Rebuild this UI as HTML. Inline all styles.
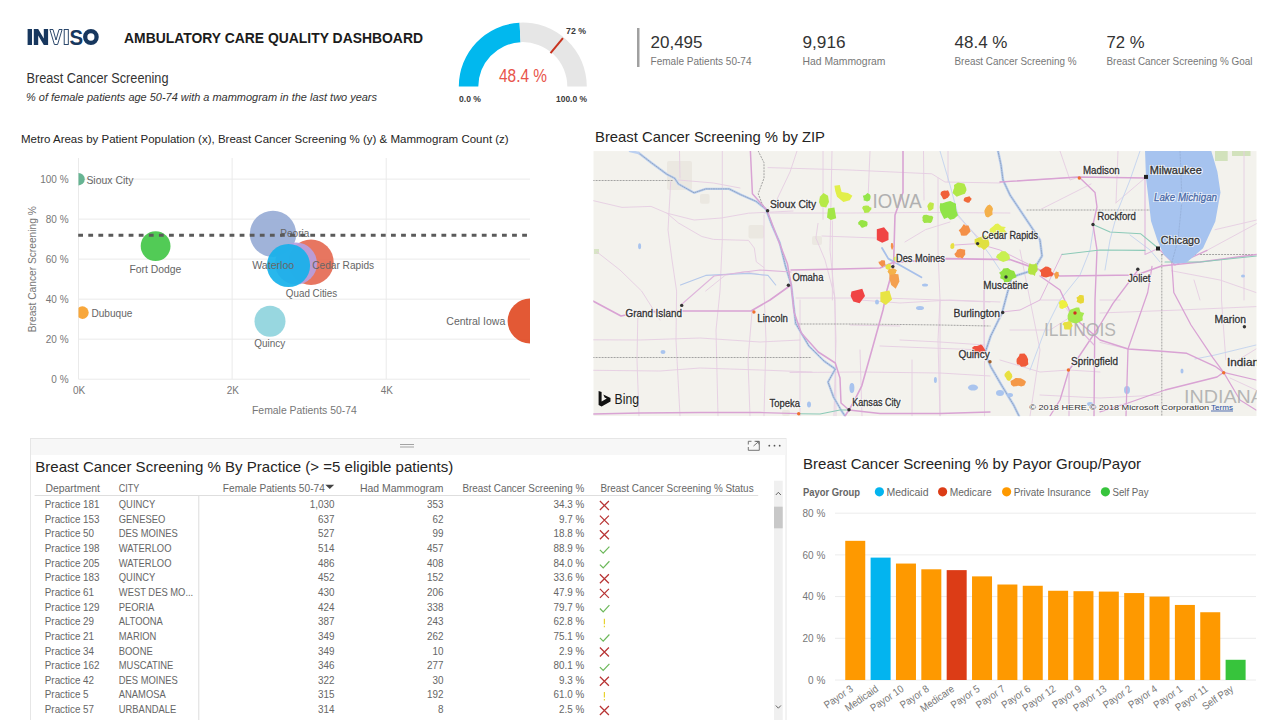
<!DOCTYPE html>
<html><head><meta charset="utf-8"><title>Ambulatory Care Quality Dashboard</title>
<style>
html,body{margin:0;padding:0;background:#fff;width:1280px;height:720px;overflow:hidden}
svg{display:block}
text{font-family:"Liberation Sans",sans-serif}
</style></head><body>
<svg width="1280" height="720" viewBox="0 0 1280 720">
<g fill="#17375e">
<rect x="27.6" y="29" width="4.4" height="16"/>
<path d="M33.8,29 H38.2 L43.8,38.6 V29 H48.1 V45 H43.8 L38.2,35.4 V45 H33.8 Z"/>
<path d="M49.9,29.5 H53 L56,40 L59,29.5 H62.1 L57.6,44.5 H54.4 Z" fill="#fff" stroke="#17375e" stroke-width="0.9"/>
<rect x="64.2" y="29.5" width="4.1" height="15" fill="#fff" stroke="#17375e" stroke-width="0.9"/>
<text x="69.6" y="45" font-size="21.5" font-weight="bold" textLength="13.6" lengthAdjust="spacingAndGlyphs">S</text>
<ellipse cx="90.9" cy="37" rx="5.7" ry="5.9" fill="none" stroke="#17375e" stroke-width="4.3"/>
</g>
<text x="124" y="42.5" font-size="14" fill="#1b1b1b" font-weight="bold" textLength="299" lengthAdjust="spacingAndGlyphs">AMBULATORY CARE QUALITY DASHBOARD</text>
<text x="26.5" y="82.5" font-size="14" fill="#333" textLength="142" lengthAdjust="spacingAndGlyphs">Breast Cancer Screening</text>
<text x="26" y="101" font-size="11" fill="#333" font-style="italic" textLength="351" lengthAdjust="spacingAndGlyphs">% of female patients age 50-74 with a mammogram in the last two years</text>
<path d="M458.80,86.60 A64,64 0 0 1 519.58,22.68 L520.56,42.16 A44.5,44.5 0 0 0 478.30,86.60 Z" fill="#01b8ee"/>
<path d="M519.58,22.68 A64,64 0 0 1 586.80,86.60 L567.30,86.60 A44.5,44.5 0 0 0 520.56,42.16 Z" fill="#e6e6e6"/>
<line x1="550.53" y1="53.08" x2="562.96" y2="38.06" stroke="#c8321e" stroke-width="2"/>
<text x="523" y="81.5" font-size="18" fill="#e8544a" text-anchor="middle" textLength="48" lengthAdjust="spacingAndGlyphs">48.4 %</text>
<text x="566" y="33.5" font-size="8.5" fill="#3a3a3a" font-weight="bold" textLength="20" lengthAdjust="spacingAndGlyphs">72 %</text>
<text x="459" y="101.5" font-size="8.5" fill="#3a3a3a" font-weight="bold" textLength="22" lengthAdjust="spacingAndGlyphs">0.0 %</text>
<text x="587" y="101.5" font-size="8.5" fill="#3a3a3a" text-anchor="end" font-weight="bold" textLength="31" lengthAdjust="spacingAndGlyphs">100.0 %</text>
<rect x="637" y="28" width="2.5" height="39" fill="#a0a0a0"/>
<text x="650.5" y="47.5" font-size="17" fill="#333" textLength="52" lengthAdjust="spacingAndGlyphs">20,495</text>
<text x="650.5" y="64.5" font-size="10.5" fill="#777" textLength="101" lengthAdjust="spacingAndGlyphs">Female Patients 50-74</text>
<text x="802.5" y="47.5" font-size="17" fill="#333" textLength="43" lengthAdjust="spacingAndGlyphs">9,916</text>
<text x="802.5" y="64.5" font-size="10.5" fill="#777" textLength="83" lengthAdjust="spacingAndGlyphs">Had Mammogram</text>
<text x="954.5" y="47.5" font-size="17" fill="#333" textLength="53" lengthAdjust="spacingAndGlyphs">48.4 %</text>
<text x="954.5" y="64.5" font-size="10.5" fill="#777" textLength="122" lengthAdjust="spacingAndGlyphs">Breast Cancer Screening %</text>
<text x="1106.5" y="47.5" font-size="17" fill="#333" textLength="38" lengthAdjust="spacingAndGlyphs">72 %</text>
<text x="1106.5" y="64.5" font-size="10.5" fill="#777" textLength="146" lengthAdjust="spacingAndGlyphs">Breast Cancer Screening % Goal</text>
<text x="21" y="143.2" font-size="11" fill="#252423" textLength="487.7" lengthAdjust="spacingAndGlyphs">Metro Areas by Patient Population (x), Breast Cancer Screening % (y) &amp; Mammogram Count (z)</text>
<line x1="78.5" y1="379.20" x2="530" y2="379.20" stroke="#eaeaea" stroke-width="1"/>
<line x1="78.5" y1="339.18" x2="530" y2="339.18" stroke="#eaeaea" stroke-width="1"/>
<line x1="78.5" y1="299.16" x2="530" y2="299.16" stroke="#eaeaea" stroke-width="1"/>
<line x1="78.5" y1="259.14" x2="530" y2="259.14" stroke="#eaeaea" stroke-width="1"/>
<line x1="78.5" y1="219.12" x2="530" y2="219.12" stroke="#eaeaea" stroke-width="1"/>
<line x1="78.5" y1="179.10" x2="530" y2="179.10" stroke="#eaeaea" stroke-width="1"/>
<line x1="78.5" y1="158" x2="78.5" y2="379.2" stroke="#eaeaea" stroke-width="1"/>
<line x1="232.1" y1="158" x2="232.1" y2="379.2" stroke="#eaeaea" stroke-width="1"/>
<line x1="386.2" y1="158" x2="386.2" y2="379.2" stroke="#eaeaea" stroke-width="1"/>
<text x="68.6" y="383.0" font-size="10" fill="#777" text-anchor="end">0 %</text>
<text x="68.6" y="342.98" font-size="10" fill="#777" text-anchor="end">20 %</text>
<text x="68.6" y="302.96" font-size="10" fill="#777" text-anchor="end">40 %</text>
<text x="68.6" y="262.94" font-size="10" fill="#777" text-anchor="end">60 %</text>
<text x="68.6" y="222.92" font-size="10" fill="#777" text-anchor="end">80 %</text>
<text x="68.6" y="182.9" font-size="10" fill="#777" text-anchor="end">100 %</text>
<text x="79" y="394.2" font-size="10" fill="#777" text-anchor="middle">0K</text>
<text x="232.8" y="394.2" font-size="10" fill="#777" text-anchor="middle">2K</text>
<text x="386.8" y="394.2" font-size="10" fill="#777" text-anchor="middle">4K</text>
<text x="304.4" y="414.3" font-size="10.5" fill="#777" text-anchor="middle" textLength="104.8" lengthAdjust="spacingAndGlyphs">Female Patients 50-74</text>
<text x="0" y="0" font-size="10.5" fill="#777" text-anchor="middle" textLength="126" lengthAdjust="spacingAndGlyphs" transform="translate(35.5,269.2) rotate(-90)">Breast Cancer Screening %</text>
<defs><clipPath id="plotclip"><rect x="78.5" y="150" width="451.5" height="240"/></clipPath></defs>
<g clip-path="url(#plotclip)">
<circle cx="78.5" cy="179.2" r="6.2" fill="#5aae8a" fill-opacity="0.92"/>
<circle cx="155.6" cy="246.1" r="14.9" fill="#43c748" fill-opacity="0.92"/>
<circle cx="82.4" cy="312.6" r="6.3" fill="#f7a02a" fill-opacity="0.92"/>
<circle cx="273" cy="233.9" r="23.2" fill="#98acd6" fill-opacity="0.92"/>
<circle cx="311" cy="262.3" r="22.7" fill="#e56a52" fill-opacity="0.92"/>
<circle cx="296" cy="263.5" r="21" fill="#b7a0e0" fill-opacity="0.92"/>
<circle cx="288.5" cy="265.5" r="21.6" fill="#16b1ea" fill-opacity="0.92"/>
<circle cx="270" cy="321.3" r="15.5" fill="#8fd4dd" fill-opacity="0.92"/>
<circle cx="530" cy="321" r="22.4" fill="#e14b24" fill-opacity="0.92"/>
</g>
<text x="86.4" y="183.6" font-size="11.3" fill="#666" textLength="47" lengthAdjust="spacingAndGlyphs">Sioux City</text>
<text x="155.4" y="272.8" font-size="11.3" fill="#666" text-anchor="middle" textLength="52" lengthAdjust="spacingAndGlyphs">Fort Dodge</text>
<text x="91.4" y="316.9" font-size="11.3" fill="#666" textLength="41" lengthAdjust="spacingAndGlyphs">Dubuque</text>
<text x="280.3" y="237.2" font-size="11.3" fill="#666" textLength="29" lengthAdjust="spacingAndGlyphs">Peoria</text>
<text x="252.2" y="268.8" font-size="11.3" fill="#666" textLength="42" lengthAdjust="spacingAndGlyphs">Waterloo</text>
<text x="312.2" y="269.2" font-size="11.3" fill="#666" textLength="62" lengthAdjust="spacingAndGlyphs">Cedar Rapids</text>
<text x="285.8" y="296.5" font-size="11.3" fill="#666" textLength="51.4" lengthAdjust="spacingAndGlyphs">Quad Cities</text>
<text x="269.8" y="347.2" font-size="11.3" fill="#666" text-anchor="middle" textLength="31" lengthAdjust="spacingAndGlyphs">Quincy</text>
<text x="446.3" y="324.9" font-size="11.3" fill="#666" textLength="59" lengthAdjust="spacingAndGlyphs">Central Iowa</text>
<line x1="78.2" y1="235.3" x2="530" y2="235.3" stroke="#5a5a5a" stroke-width="3" stroke-dasharray="4.8 5.29"/>
<text x="595" y="141.7" font-size="15" fill="#252423" textLength="230" lengthAdjust="spacingAndGlyphs">Breast Cancer Screening % by ZIP</text>
<defs><clipPath id="mapclip"><rect x="593.3" y="151.1" width="663.4" height="265.1"/></clipPath></defs>
<g clip-path="url(#mapclip)">
<rect x="593.3" y="151.1" width="663.4" height="265.1" fill="#f3f2ed"/>
<rect x="667" y="161" width="25" height="29" fill="#ebe8e1" rx="2"/>
<rect x="748.5" y="225" width="15.5" height="13.5" fill="#ebe8e1" rx="2"/>
<rect x="700" y="194" width="9.6" height="9.7" fill="#ebe8e1" rx="2"/>
<rect x="812" y="236" width="10" height="9" fill="#ebe8e1" rx="2"/>
<rect x="782" y="410" width="8" height="6" fill="#ebe8e1" rx="2"/>
<rect x="1215" y="151" width="12.7" height="10" fill="#d2e2bc"/>
<rect x="1232" y="151" width="18.5" height="5" fill="#d2e2bc"/>
<rect x="594" y="249" width="5" height="5" fill="#d8e4c6"/>
<path d="M593.0,200.6 L622.0,207.4 L651.0,206.4 L667.0,213.2 L694.0,220.0 L721.3,218.0 L748.5,213.2 L793.0,211.0" fill="none" stroke="#e5cde2" stroke-width="0.9" stroke-linejoin="round" stroke-linecap="round" />
<path d="M667.0,213.2 L678.5,223.0 L701.8,236.5 L713.5,239.4 L748.5,240.4 L754.3,248.0 L756.3,261.8 L764.0,267.6" fill="none" stroke="#e5cde2" stroke-width="0.9" stroke-linejoin="round" stroke-linecap="round" />
<path d="M678.5,180.0 L713.5,183.0 L740.0,188.0" fill="none" stroke="#e5cde2" stroke-width="0.9" stroke-linejoin="round" stroke-linecap="round" />
<path d="M679.5,151.0 L680.0,178.0" fill="none" stroke="#e5cde2" stroke-width="0.9" stroke-linejoin="round" stroke-linecap="round" />
<path d="M670.7,182.0 L668.0,230.0 L672.0,260.0 L676.6,291.0 L676.0,340.0 L680.0,416.0" fill="none" stroke="#e5cde2" stroke-width="0.9" stroke-linejoin="round" stroke-linecap="round" />
<path d="M722.3,151.0 L722.3,240.0 L720.0,291.0 L716.0,330.0 L718.0,416.0" fill="none" stroke="#e5cde2" stroke-width="0.9" stroke-linejoin="round" stroke-linecap="round" />
<path d="M764.0,215.0 L764.0,291.0 L766.0,340.0 L764.0,416.0" fill="none" stroke="#e5cde2" stroke-width="0.9" stroke-linejoin="round" stroke-linecap="round" />
<path d="M597.0,252.0 L620.0,270.0 L641.6,291.0 L660.0,320.0" fill="none" stroke="#e5cde2" stroke-width="0.9" stroke-linejoin="round" stroke-linecap="round" />
<path d="M593.0,339.8 L640.0,340.0 L700.0,338.0 L760.0,342.0 L800.0,340.0" fill="none" stroke="#e5cde2" stroke-width="0.9" stroke-linejoin="round" stroke-linecap="round" />
<path d="M593.0,370.3 L660.0,371.0 L700.0,368.0 L760.0,370.0 L812.0,372.0" fill="none" stroke="#e5cde2" stroke-width="0.9" stroke-linejoin="round" stroke-linecap="round" />
<path d="M637.8,318.0 L637.0,360.0 L639.0,416.0" fill="none" stroke="#e5cde2" stroke-width="0.9" stroke-linejoin="round" stroke-linecap="round" />
<path d="M752.0,312.0 L748.0,360.0 L750.0,416.0" fill="none" stroke="#e5cde2" stroke-width="0.9" stroke-linejoin="round" stroke-linecap="round" />
<path d="M705.7,291.0 L725.0,275.4 L744.6,271.5 L764.0,275.4" fill="none" stroke="#e5cde2" stroke-width="0.9" stroke-linejoin="round" stroke-linecap="round" />
<path d="M797.0,151.0 L790.0,172.0 L772.4,209.0" fill="none" stroke="#e5cde2" stroke-width="0.9" stroke-linejoin="round" stroke-linecap="round" />
<path d="M823.0,151.0 L823.0,219.3" fill="none" stroke="#e5cde2" stroke-width="0.9" stroke-linejoin="round" stroke-linecap="round" />
<path d="M818.0,223.4 L815.9,238.0 L825.0,260.0 L834.5,296.0 L836.0,340.0 L834.0,416.0" fill="none" stroke="#e5cde2" stroke-width="0.9" stroke-linejoin="round" stroke-linecap="round" />
<path d="M822.0,236.0 L875.9,238.0" fill="none" stroke="#e5cde2" stroke-width="0.9" stroke-linejoin="round" stroke-linecap="round" />
<path d="M832.4,221.0 L832.4,300.0" fill="none" stroke="#e5cde2" stroke-width="0.9" stroke-linejoin="round" stroke-linecap="round" />
<path d="M764.0,213.0 L850.0,213.0 L930.0,212.5 L1010.0,213.0" fill="none" stroke="#e5cde2" stroke-width="0.9" stroke-linejoin="round" stroke-linecap="round" />
<path d="M768.0,167.6 L850.0,170.0 L931.8,173.8 L945.0,182.0 L1000.0,183.0" fill="none" stroke="#e5cde2" stroke-width="0.9" stroke-linejoin="round" stroke-linecap="round" />
<path d="M923.5,151.0 L924.0,200.0" fill="none" stroke="#e5cde2" stroke-width="0.9" stroke-linejoin="round" stroke-linecap="round" />
<path d="M948.0,151.0 L948.0,182.0" fill="none" stroke="#e5cde2" stroke-width="0.9" stroke-linejoin="round" stroke-linecap="round" />
<path d="M938.0,178.0 L938.0,250.0 L940.0,300.0 L938.0,340.0 L940.0,416.0" fill="none" stroke="#e5cde2" stroke-width="0.9" stroke-linejoin="round" stroke-linecap="round" />
<path d="M904.9,242.0 L925.6,229.6 L950.0,222.0" fill="none" stroke="#e5cde2" stroke-width="0.9" stroke-linejoin="round" stroke-linecap="round" />
<path d="M956.6,215.0 L979.0,238.0" fill="none" stroke="#e5cde2" stroke-width="0.9" stroke-linejoin="round" stroke-linecap="round" />
<path d="M983.5,233.0 L983.5,300.0 L984.0,350.0" fill="none" stroke="#e5cde2" stroke-width="0.9" stroke-linejoin="round" stroke-linecap="round" />
<path d="M860.0,300.0 L900.0,303.0 L950.0,300.0 L1000.0,302.0" fill="none" stroke="#e5cde2" stroke-width="0.9" stroke-linejoin="round" stroke-linecap="round" />
<path d="M850.0,325.0 L900.0,326.0" fill="none" stroke="#e5cde2" stroke-width="0.9" stroke-linejoin="round" stroke-linecap="round" />
<path d="M870.0,151.0 L868.0,200.0" fill="none" stroke="#e5cde2" stroke-width="0.9" stroke-linejoin="round" stroke-linecap="round" />
<path d="M800.0,300.0 L800.0,416.0" fill="none" stroke="#e5cde2" stroke-width="0.9" stroke-linejoin="round" stroke-linecap="round" />
<path d="M860.0,350.0 L862.0,416.0" fill="none" stroke="#e5cde2" stroke-width="0.9" stroke-linejoin="round" stroke-linecap="round" />
<path d="M900.0,340.0 L940.0,342.0 L985.0,345.0" fill="none" stroke="#e5cde2" stroke-width="0.9" stroke-linejoin="round" stroke-linecap="round" />
<path d="M912.0,360.0 L912.0,416.0" fill="none" stroke="#e5cde2" stroke-width="0.9" stroke-linejoin="round" stroke-linecap="round" />
<path d="M1000.0,182.0 L1078.7,177.0" fill="none" stroke="#e5cde2" stroke-width="0.9" stroke-linejoin="round" stroke-linecap="round" />
<path d="M1041.4,209.0 L1091.0,184.0" fill="none" stroke="#e5cde2" stroke-width="0.9" stroke-linejoin="round" stroke-linecap="round" />
<path d="M1116.0,202.8 L1145.0,178.0" fill="none" stroke="#e5cde2" stroke-width="0.9" stroke-linejoin="round" stroke-linecap="round" />
<path d="M1207.0,250.4 L1256.7,223.5" fill="none" stroke="#e5cde2" stroke-width="0.9" stroke-linejoin="round" stroke-linecap="round" />
<path d="M1215.0,229.7 L1256.7,220.0" fill="none" stroke="#e5cde2" stroke-width="0.9" stroke-linejoin="round" stroke-linecap="round" />
<path d="M1244.0,151.0 L1244.0,300.0" fill="none" stroke="#e5cde2" stroke-width="0.9" stroke-linejoin="round" stroke-linecap="round" />
<path d="M1100.0,313.0 L1180.0,310.0 L1256.0,306.6" fill="none" stroke="#e5cde2" stroke-width="0.9" stroke-linejoin="round" stroke-linecap="round" />
<path d="M1171.6,270.8 L1220.0,280.0 L1256.0,292.5" fill="none" stroke="#e5cde2" stroke-width="0.9" stroke-linejoin="round" stroke-linecap="round" />
<path d="M1221.5,260.0 L1221.5,300.0 L1225.8,359.8" fill="none" stroke="#e5cde2" stroke-width="0.9" stroke-linejoin="round" stroke-linecap="round" />
<path d="M1256.0,349.0 L1230.0,365.0" fill="none" stroke="#e5cde2" stroke-width="0.9" stroke-linejoin="round" stroke-linecap="round" />
<path d="M1256.0,390.0 L1230.0,378.0" fill="none" stroke="#e5cde2" stroke-width="0.9" stroke-linejoin="round" stroke-linecap="round" />
<path d="M1100.0,342.4 L1128.2,349.0" fill="none" stroke="#e5cde2" stroke-width="0.9" stroke-linejoin="round" stroke-linecap="round" />
<path d="M1040.0,300.0 L1060.0,300.0 L1072.0,316.0" fill="none" stroke="#e5cde2" stroke-width="0.9" stroke-linejoin="round" stroke-linecap="round" />
<path d="M1010.0,330.0 L1050.0,330.0 L1072.0,316.0" fill="none" stroke="#e5cde2" stroke-width="0.9" stroke-linejoin="round" stroke-linecap="round" />
<path d="M1000.0,360.0 L1040.0,372.0 L1069.0,370.0 L1100.0,372.0" fill="none" stroke="#e5cde2" stroke-width="0.9" stroke-linejoin="round" stroke-linecap="round" />
<path d="M1040.0,395.0 L1100.0,398.0 L1160.0,395.0" fill="none" stroke="#e5cde2" stroke-width="0.9" stroke-linejoin="round" stroke-linecap="round" />
<path d="M1020.0,250.0 L1030.0,300.0 L1040.0,350.0 L1030.0,416.0" fill="none" stroke="#e5cde2" stroke-width="0.9" stroke-linejoin="round" stroke-linecap="round" />
<path d="M1060.0,151.0 L1070.0,180.0 L1078.7,177.0" fill="none" stroke="#e5cde2" stroke-width="0.9" stroke-linejoin="round" stroke-linecap="round" />
<path d="M1118.0,151.0 L1116.0,202.8" fill="none" stroke="#e5cde2" stroke-width="0.9" stroke-linejoin="round" stroke-linecap="round" />
<path d="M1194.0,280.0 L1200.0,300.0" fill="none" stroke="#e5cde2" stroke-width="0.9" stroke-linejoin="round" stroke-linecap="round" />
<path d="M1100.0,300.0 L1120.0,300.0" fill="none" stroke="#e5cde2" stroke-width="0.9" stroke-linejoin="round" stroke-linecap="round" />
<path d="M796.0,298.0 L850.0,298.0 L884.0,298.0 L940.0,300.0 L990.0,302.0" fill="none" stroke="#e5cde2" stroke-width="0.9" stroke-linejoin="round" stroke-linecap="round" />
<path d="M790.0,372.5 L860.0,372.0 L940.0,373.0 L990.0,376.0" fill="none" stroke="#e5cde2" stroke-width="0.9" stroke-linejoin="round" stroke-linecap="round" />
<path d="M832.0,151.0 L830.0,250.0 L835.0,300.0 L836.0,416.0" fill="none" stroke="#e5cde2" stroke-width="0.9" stroke-linejoin="round" stroke-linecap="round" />
<path d="M940.0,300.0 L940.0,416.0" fill="none" stroke="#e5cde2" stroke-width="0.9" stroke-linejoin="round" stroke-linecap="round" />
<path d="M984.5,290.0 L984.5,416.0" fill="none" stroke="#e5cde2" stroke-width="0.9" stroke-linejoin="round" stroke-linecap="round" />
<path d="M880.0,346.0 L930.0,348.0 L985.0,350.0" fill="none" stroke="#e5cde2" stroke-width="0.9" stroke-linejoin="round" stroke-linecap="round" />
<ellipse cx="920" cy="308" rx="4" ry="2" fill="#a9c4ee"/>
<ellipse cx="852" cy="387.6" rx="2" ry="4" fill="#a9c4ee"/>
<ellipse cx="973" cy="387.6" rx="5" ry="3" fill="#a9c4ee"/>
<ellipse cx="809" cy="404.6" rx="2" ry="3" fill="#a9c4ee"/>
<ellipse cx="935.4" cy="380" rx="1.5" ry="3" fill="#a9c4ee"/>
<path d="M593.0,180.5 L673.7,180.5" fill="none" stroke="#8e8e8e" stroke-width="0.8" stroke-linejoin="round" stroke-linecap="round" stroke-dasharray="1.2 1.8"/>
<path d="M758.2,151.0 L764.0,162.7 L764.0,178.2 L758.2,193.8 L762.0,203.5 L767.0,211.0" fill="none" stroke="#8e8e8e" stroke-width="0.8" stroke-linejoin="round" stroke-linecap="round" stroke-dasharray="1.2 1.8"/>
<path d="M795.0,324.0 L860.0,324.0 L940.0,325.0 L990.0,326.0" fill="none" stroke="#8e8e8e" stroke-width="0.8" stroke-linejoin="round" stroke-linecap="round" stroke-dasharray="1.2 1.8"/>
<path d="M593.0,357.5 L700.0,357.5 L812.0,357.5" fill="none" stroke="#8e8e8e" stroke-width="0.8" stroke-linejoin="round" stroke-linecap="round" stroke-dasharray="1.2 1.8"/>
<path d="M1027.0,210.0 L1100.0,210.0 L1178.0,210.0" fill="none" stroke="#8e8e8e" stroke-width="0.8" stroke-linejoin="round" stroke-linecap="round" stroke-dasharray="1.2 1.8"/>
<path d="M1161.8,255.0 L1161.8,416.0" fill="none" stroke="#8e8e8e" stroke-width="0.8" stroke-linejoin="round" stroke-linecap="round" stroke-dasharray="1.2 1.8"/>
<path d="M1161.5,254.5 L1256.7,254.5" fill="none" stroke="#8e8e8e" stroke-width="0.8" stroke-linejoin="round" stroke-linecap="round" stroke-dasharray="1.2 1.8"/>
<path d="M638.7,153.0 L651.3,162.7 L666.9,174.3 L674.6,178.2 L678.5,184.0 L694.0,192.8 L705.7,188.9 L729.0,188.9 L740.7,194.7 L756.3,201.5 L766.0,209.3 L771.8,224.9 L779.6,242.4 L785.4,265.7 L791.2,285.0 L795.7,323.5 L808.9,346.0 L824.0,361.0 L835.3,369.0 L828.0,382.0 L833.5,397.0 L841.0,410.0 L845.0,416.0" fill="none" stroke="#bcd0f0" stroke-width="2.4" stroke-linejoin="round" stroke-linecap="round" />
<path d="M638.7,153.0 L651.3,162.7 L666.9,174.3 L674.6,178.2 L678.5,184.0 L694.0,192.8 L705.7,188.9 L729.0,188.9 L740.7,194.7 L756.3,201.5 L766.0,209.3 L771.8,224.9 L779.6,242.4 L785.4,265.7 L791.2,285.0 L795.7,323.5 L808.9,346.0 L824.0,361.0 L835.3,369.0 L828.0,382.0 L833.5,397.0 L841.0,410.0 L845.0,416.0" fill="none" stroke="#7d90ad" stroke-width="0.7" stroke-linejoin="round" stroke-linecap="round" stroke-dasharray="1.2 1.2"/>
<path d="M630.0,151.0 L638.7,153.0" fill="none" stroke="#bcd0f0" stroke-width="2.4" stroke-linejoin="round" stroke-linecap="round" />
<path d="M998.0,151.0 L1001.0,165.0 L1003.0,180.0 L1010.0,195.0 L1020.0,210.0 L1030.0,225.0 L1040.0,240.0 L1042.0,256.0 L1036.0,266.0 L1030.8,271.0 L1011.7,277.0 L1006.0,298.0 L1002.0,313.0 L990.7,336.0 L985.0,353.0 L990.7,366.6 L1002.0,386.0 L1013.6,405.0 L1019.0,416.0" fill="none" stroke="#bcd0f0" stroke-width="2.6" stroke-linejoin="round" stroke-linecap="round" />
<path d="M998.0,151.0 L1001.0,165.0 L1003.0,180.0 L1010.0,195.0 L1020.0,210.0 L1030.0,225.0 L1040.0,240.0 L1042.0,256.0 L1036.0,266.0 L1030.8,271.0 L1011.7,277.0 L1006.0,298.0 L1002.0,313.0 L990.7,336.0 L985.0,353.0 L990.7,366.6 L1002.0,386.0 L1013.6,405.0 L1019.0,416.0" fill="none" stroke="#7d90ad" stroke-width="0.7" stroke-linejoin="round" stroke-linecap="round" stroke-dasharray="1.2 1.2"/>
<path d="M680.5,285.0 L705.7,275.4 L748.5,273.4 L768.0,275.4 L775.7,285.0" fill="none" stroke="#b4c8ea" stroke-width="1.1" stroke-linejoin="round" stroke-linecap="round" />
<path d="M882.0,248.0 L888.3,258.6 L905.0,268.0 L921.4,277.2" fill="none" stroke="#a8c0ea" stroke-width="1.8" stroke-linejoin="round" stroke-linecap="round" />
<path d="M1094.0,225.0 L1090.0,250.0 L1080.0,275.0 L1060.0,300.0 L1045.0,330.0 L1030.0,370.0" fill="none" stroke="#c2d2ee" stroke-width="0.9" stroke-linejoin="round" stroke-linecap="round" />
<path d="M1140.0,151.0 L1130.0,180.0 L1118.0,210.0 L1110.0,240.0 L1105.0,270.0" fill="none" stroke="#c2d2ee" stroke-width="0.9" stroke-linejoin="round" stroke-linecap="round" />
<path d="M940.0,151.0 L950.0,185.0 L958.0,215.0 L975.0,235.0 L990.0,255.0 L1000.0,270.0" fill="none" stroke="#c2d2ee" stroke-width="0.9" stroke-linejoin="round" stroke-linecap="round" />
<path d="M1130.0,235.0 L1150.0,250.0 L1160.0,262.0" fill="none" stroke="#c2d2ee" stroke-width="0.9" stroke-linejoin="round" stroke-linecap="round" />
<path d="M1195.0,359.0 L1215.0,355.0 L1256.0,345.0" fill="none" stroke="#c2d2ee" stroke-width="0.9" stroke-linejoin="round" stroke-linecap="round" />
<ellipse cx="639.6" cy="246.2" rx="1.5" ry="3" fill="#a9c4ee"/>
<ellipse cx="663" cy="352" rx="2.5" ry="2" fill="#a9c4ee"/>
<ellipse cx="877" cy="302" rx="2" ry="2.5" fill="#a9c4ee"/>
<ellipse cx="1000" cy="393" rx="4" ry="3" fill="#a9c4ee"/>
<ellipse cx="1127" cy="390" rx="3" ry="4" fill="#a9c4ee"/>
<ellipse cx="1010" cy="395" rx="3" ry="2" fill="#a9c4ee"/>
<ellipse cx="851.9" cy="388" rx="2.5" ry="5" fill="#a9c4ee"/>
<ellipse cx="1243" cy="276" rx="2" ry="1.5" fill="#a9c4ee"/>
<ellipse cx="1182" cy="371" rx="1.5" ry="2.5" fill="#a9c4ee"/>
<ellipse cx="1090" cy="404" rx="3" ry="2" fill="#a9c4ee"/>
<ellipse cx="925" cy="285" rx="3" ry="1.5" fill="#a9c4ee"/>
<path d="M593.0,301.0 L621.0,316.0 L640.0,312.0 L682.0,311.0 L751.0,311.0 L770.0,300.0 L791.0,285.0" fill="none" stroke="#d9a3d4" stroke-width="1.6" stroke-linejoin="round" stroke-linecap="round" />
<path d="M682.0,304.0 L714.0,276.0 L760.0,270.0 L791.0,272.0" fill="none" stroke="#dfb6dc" stroke-width="1.1" stroke-linejoin="round" stroke-linecap="round" />
<path d="M791.0,270.0 L840.0,269.0 L880.0,268.0 L892.4,262.8 L946.3,258.6 L1010.0,259.6 L1040.0,270.0 L1060.0,276.0 L1136.6,275.0 L1161.5,266.0 L1200.0,262.0 L1256.7,254.5" fill="none" stroke="#d9a3d4" stroke-width="1.6" stroke-linejoin="round" stroke-linecap="round" />
<path d="M750.4,151.0 L752.4,193.8 L767.0,210.3 L777.6,238.5 L787.4,263.7 L791.2,285.0 L794.0,312.0 L801.3,333.0 L818.3,352.0 L835.3,363.0 L840.0,378.0 L841.0,403.0 L849.0,410.0" fill="none" stroke="#d9a3d4" stroke-width="1.5" stroke-linejoin="round" stroke-linecap="round" />
<path d="M903.0,151.0 L903.0,192.4 L895.0,215.0 L893.5,267.0 L887.0,290.0 L883.0,310.0 L873.0,346.0 L861.8,385.8 L854.2,400.9 L849.0,410.0 L845.0,416.0" fill="none" stroke="#d9a3d4" stroke-width="1.6" stroke-linejoin="round" stroke-linecap="round" />
<path d="M1040.0,276.0 L1060.0,290.0 L1072.0,316.0 L1100.0,340.0 L1128.2,349.0 L1158.6,351.0 L1186.8,353.3 L1215.0,366.3 L1223.6,372.4" fill="none" stroke="#d9a3d4" stroke-width="1.4" stroke-linejoin="round" stroke-linecap="round" />
<path d="M1138.0,270.0 L1113.0,303.4 L1100.0,325.0 L1080.0,355.0 L1069.0,370.0 L1060.0,400.0 L1050.0,416.0" fill="none" stroke="#d9a3d4" stroke-width="1.4" stroke-linejoin="round" stroke-linecap="round" />
<path d="M1152.0,266.5 L1147.7,292.5 L1128.0,349.0 L1126.0,416.0" fill="none" stroke="#d9a3d4" stroke-width="1.3" stroke-linejoin="round" stroke-linecap="round" />
<path d="M1171.6,260.0 L1173.8,292.5 L1191.0,325.0 L1212.8,357.6 L1223.6,372.4" fill="none" stroke="#d9a3d4" stroke-width="1.3" stroke-linejoin="round" stroke-linecap="round" />
<path d="M1223.6,372.4 L1217.0,377.0 L1165.0,390.0 L1128.0,403.0 L1100.0,411.8" fill="none" stroke="#d9a3d4" stroke-width="1.3" stroke-linejoin="round" stroke-linecap="round" />
<path d="M1223.6,372.4 L1256.0,380.0" fill="none" stroke="#d9a3d4" stroke-width="1.2" stroke-linejoin="round" stroke-linecap="round" />
<path d="M1223.6,372.4 L1240.0,400.0 L1256.0,410.0" fill="none" stroke="#d9a3d4" stroke-width="1.2" stroke-linejoin="round" stroke-linecap="round" />
<path d="M1079.0,177.0 L1095.0,192.4 L1097.0,207.0 L1093.0,224.5 L1097.0,250.0 L1095.0,300.0 L1094.0,416.0" fill="none" stroke="#d9a3d4" stroke-width="1.4" stroke-linejoin="round" stroke-linecap="round" />
<path d="M1000.0,182.0 L1078.7,177.0 L1145.0,178.0" fill="none" stroke="#d9a3d4" stroke-width="1.4" stroke-linejoin="round" stroke-linecap="round" />
<path d="M1145.0,178.0 L1145.0,254.5 L1158.0,248.5" fill="none" stroke="#dfb6dc" stroke-width="1.1" stroke-linejoin="round" stroke-linecap="round" />
<path d="M1158.0,248.0 L1175.0,265.0 L1207.0,250.4" fill="none" stroke="#d9a3d4" stroke-width="1.3" stroke-linejoin="round" stroke-linecap="round" />
<path d="M1072.0,316.0 L1080.0,330.0 L1094.0,345.0" fill="none" stroke="#dfb6dc" stroke-width="1.1" stroke-linejoin="round" stroke-linecap="round" />
<path d="M593.0,414.0 L640.0,413.0 L700.0,412.5 L760.0,412.5 L799.0,413.7" fill="none" stroke="#d9a3d4" stroke-width="1.3" stroke-linejoin="round" stroke-linecap="round" />
<path d="M799.0,413.7 L820.0,414.0 L840.0,410.0 L849.0,410.0" fill="none" stroke="#8ccab8" stroke-width="1.1" stroke-linejoin="round" stroke-linecap="round" />
<path d="M849.0,410.0 L880.0,413.5 L940.0,413.5 L990.0,412.0" fill="none" stroke="#d9a3d4" stroke-width="1.3" stroke-linejoin="round" stroke-linecap="round" />
<path d="M1069.0,370.0 L1069.0,416.0" fill="none" stroke="#dfb6dc" stroke-width="1.1" stroke-linejoin="round" stroke-linecap="round" />
<path d="M955.0,245.0 L977.6,243.6 L1000.0,250.0 L1040.0,270.0" fill="none" stroke="#dfb6dc" stroke-width="1" stroke-linejoin="round" stroke-linecap="round" />
<path d="M1002.0,312.0 L1020.0,310.0 L1040.0,300.0 L1062.0,254.0" fill="none" stroke="#dfb6dc" stroke-width="1" stroke-linejoin="round" stroke-linecap="round" />
<path d="M1093.0,224.5 L1110.0,232.0 L1140.8,233.8 L1158.0,248.0" fill="none" stroke="#8ccab8" stroke-width="1.1" stroke-linejoin="round" stroke-linecap="round" />
<path d="M1062.0,254.5 L1100.0,250.0 L1145.0,250.4" fill="none" stroke="#8ccab8" stroke-width="1.1" stroke-linejoin="round" stroke-linecap="round" />
<path d="M1165.0,262.0 L1200.0,262.0 L1256.7,256.0" fill="none" stroke="#8ccab8" stroke-width="1.1" stroke-linejoin="round" stroke-linecap="round" />
<path d="M1145,150 L1146,178 L1149,203 L1151,221 L1157.3,240 L1163.6,254.5 L1174,263.8 L1186.3,262.8 L1203,248.3 L1215.3,221.4 L1220.5,192.4 L1217.4,171.7 L1211,150 Z" fill="#a6c3ef"/>
<path d="M1180.0,151.0 L1182.0,200.0 L1178.0,240.0 L1172.0,262.0" fill="none" stroke="#8fa8d0" stroke-width="0.6" stroke-linejoin="round" stroke-linecap="round" stroke-dasharray="1.5 1.5"/>
<text x="872.6" y="207.8" font-size="20" fill="#b0b0b0" textLength="49" lengthAdjust="spacingAndGlyphs">IOWA</text>
<text x="1044" y="336" font-size="18" fill="#aaa" fill-opacity="0.85" textLength="72" lengthAdjust="spacingAndGlyphs">ILLINOIS</text>
<text x="1184" y="403" font-size="18" fill="#aaa" fill-opacity="0.85" textLength="80" lengthAdjust="spacingAndGlyphs">INDIANA</text>
<path d="M834.4,185.8 L839.8,184.9 L841.6,192.1 L847.9,193.0 L852.4,195.8 L849.7,200.3 L843.4,202.0 L837.0,196.7 L835.3,191.2 Z" fill="#e2ef4a"/>
<path d="M819.9,196.7 L823.5,193.0 L828.0,195.8 L829.0,202.0 L826.2,207.5 L820.8,206.6 L819.0,202.0 Z" fill="#b6ea48"/>
<path d="M828.0,208.4 L834.4,207.5 L836.2,218.3 L830.8,220.0 L827.0,217.4 Z" fill="#a2e646"/>
<path d="M870.5,198.3 L869.6,200.5 L868.4,201.1 L867.1,201.6 L865.1,200.7 L863.7,200.5 L863.7,198.5 L862.8,195.7 L865.3,195.1 L866.3,194.1 L867.6,193.1 L869.9,194.4 L870.6,196.0 Z" fill="#94e64a"/>
<path d="M871.4,209.3 L870.0,211.1 L868.7,212.4 L866.7,212.8 L864.5,212.9 L863.6,210.5 L862.8,209.3 L862.1,207.9 L863.2,206.1 L866.2,205.5 L868.6,205.7 L869.8,207.3 L871.3,207.4 Z" fill="#b0e84a"/>
<path d="M867.6,224.7 L866.6,226.4 L865.6,226.6 L862.7,227.7 L861.4,227.4 L859.6,225.1 L858.4,224.5 L858.1,222.5 L860.3,220.2 L862.4,220.0 L864.0,220.4 L865.8,220.9 L867.4,222.0 Z" fill="#96e444"/>
<path d="M876.8,229.2 L884.0,227.3 L888.5,232.8 L888.5,240.0 L882.2,242.7 L876.8,240.0 Z" fill="#f04444"/>
<path d="M851.5,291.4 L862.3,288.7 L865.0,296.0 L859.6,303.2 L853.3,301.4 L850.6,296.0 Z" fill="#f04444"/>
<path d="M889.4,273.4 L898.4,274.3 L899.4,281.5 L895.7,288.7 L891.2,285.1 L889.4,278.8 Z" fill="#f4a04e"/>
<path d="M880.4,292.3 L889.4,290.5 L892.1,299.5 L885.8,305.0 L880.4,301.4 Z" fill="#e8e444"/>
<path d="M893.5,246.5 L892.9,248.5 L892.6,248.9 L892.2,250.0 L891.4,249.0 L891.3,248.1 L890.8,247.0 L890.9,244.6 L891.1,243.3 L891.7,243.1 L892.3,243.0 L892.9,243.6 L893.3,245.6 Z" fill="#f4904a"/>
<path d="M885.2,263.8 L885.7,265.3 L883.2,266.1 L882.4,267.2 L880.7,265.6 L880.0,265.0 L878.9,263.2 L878.4,261.8 L880.2,261.4 L881.3,260.2 L882.8,260.3 L884.9,260.5 L885.1,261.9 Z" fill="#f4904a"/>
<path d="M891.7,266.6 L890.5,268.0 L889.8,269.4 L888.0,269.7 L887.4,269.5 L885.7,268.4 L885.5,267.1 L885.4,265.2 L886.9,264.7 L888.3,263.8 L889.4,263.9 L890.6,263.7 L890.6,265.4 Z" fill="#e8e444"/>
<path d="M895.9,272.1 L896.1,273.1 L894.0,274.5 L892.1,274.4 L890.2,274.9 L888.4,273.0 L887.5,271.6 L888.4,270.1 L888.9,269.0 L891.6,268.4 L893.1,268.3 L895.6,269.2 L897.0,270.4 Z" fill="#f4b24a"/>
<path d="M898.3,259.4 L898.0,260.1 L896.6,261.0 L895.7,261.6 L894.7,261.0 L894.2,260.2 L893.8,259.5 L893.7,258.4 L894.2,256.9 L895.6,256.6 L896.6,257.1 L897.9,256.7 L898.1,258.1 Z" fill="#d8ec48"/>
<path d="M949.8,194.9 L947.8,197.8 L946.6,198.3 L945.0,199.2 L943.2,199.2 L941.8,196.5 L940.5,194.5 L940.8,192.4 L941.9,191.2 L944.5,190.4 L946.1,190.8 L948.0,190.2 L949.3,192.8 Z" fill="#f0603a"/>
<path d="M966.5,190.2 L964.9,193.7 L962.5,194.5 L958.5,196.1 L956.7,196.8 L952.6,193.1 L953.3,190.0 L954.2,188.0 L954.0,185.0 L957.9,182.5 L962.4,183.3 L964.4,183.8 L966.2,187.9 Z" fill="#b0e848"/>
<path d="M971.3,199.9 L970.1,201.0 L969.5,202.5 L967.7,202.8 L966.3,202.2 L963.9,201.0 L963.6,199.9 L964.3,198.1 L965.6,197.3 L966.9,196.9 L969.5,196.2 L970.5,197.7 L971.4,198.1 Z" fill="#f06a3a"/>
<path d="M933.5,206.9 L933.5,208.6 L931.7,209.9 L930.0,210.7 L928.4,210.5 L927.9,208.1 L927.3,206.4 L927.7,205.0 L929.1,203.0 L930.0,202.2 L931.2,202.5 L933.5,203.0 L933.9,204.1 Z" fill="#c0e848"/>
<path d="M956.6,211.0 L958.0,215.2 L954.2,218.7 L950.1,219.7 L947.7,217.5 L944.1,219.0 L941.8,214.5 L940.2,210.9 L939.7,207.3 L940.1,203.2 L942.6,203.2 L946.1,202.1 L950.3,201.1 L953.9,202.8 L956.0,203.8 L956.1,208.7 Z" fill="#90e448"/>
<path d="M932.8,219.1 L932.0,221.6 L930.6,222.9 L927.6,222.8 L924.1,223.0 L922.4,220.5 L922.7,219.3 L922.3,217.2 L923.6,215.0 L926.6,214.8 L929.7,215.8 L931.6,215.7 L933.3,217.1 Z" fill="#a0e448"/>
<path d="M992.3,212.1 L992.6,214.6 L990.9,215.7 L988.1,217.6 L986.0,216.7 L985.1,214.9 L984.3,211.1 L985.1,209.0 L986.1,207.3 L987.5,205.4 L989.8,204.4 L991.9,206.6 L993.0,208.7 Z" fill="#f4b04a"/>
<path d="M970.6,231.5 L968.8,233.2 L966.6,235.6 L963.8,235.8 L961.0,235.6 L960.4,232.8 L958.7,230.3 L960.3,229.0 L961.5,227.4 L963.9,224.0 L965.4,225.5 L968.5,225.4 L969.9,229.2 Z" fill="#f49048"/>
<path d="M1007.0,232.8 L1004.4,234.1 L1004.1,236.6 L999.1,236.4 L995.1,238.1 L994.2,235.6 L992.3,233.8 L989.6,232.2 L989.7,229.1 L993.2,226.3 L995.4,223.9 L998.0,223.6 L1001.7,226.6 L1005.9,226.9 L1004.1,228.9 Z" fill="#e4f050"/>
<path d="M989.3,242.8 L989.3,245.3 L987.0,247.7 L984.0,249.9 L980.9,247.4 L978.8,247.6 L975.9,244.7 L974.6,243.1 L974.6,239.2 L978.9,237.5 L981.0,236.7 L983.5,235.2 L986.3,236.2 L988.3,239.0 L988.5,240.2 Z" fill="#e0e040"/>
<path d="M954.3,246.6 L954.1,248.3 L953.1,248.6 L952.3,248.9 L951.3,248.8 L950.4,247.9 L950.4,246.5 L950.4,245.2 L951.3,243.5 L952.0,243.4 L953.2,242.7 L953.9,243.8 L954.5,244.9 Z" fill="#e8e040"/>
<path d="M965.3,254.6 L964.2,255.9 L962.5,258.6 L960.2,257.4 L958.1,257.7 L955.9,256.7 L954.3,254.0 L956.3,252.1 L957.1,249.7 L960.1,248.8 L962.6,249.3 L965.2,249.7 L965.1,252.1 Z" fill="#f49048"/>
<path d="M1009.6,256.6 L1010.0,258.8 L1007.5,260.4 L1003.2,261.9 L999.2,260.2 L997.9,258.8 L995.9,257.2 L997.4,254.6 L999.2,253.5 L1001.4,251.2 L1005.4,251.2 L1007.6,253.3 L1009.3,255.1 Z" fill="#c8f050"/>
<path d="M1016.6,277.3 L1012.3,279.1 L1011.7,279.7 L1009.0,282.1 L1004.1,282.3 L1003.5,279.8 L1000.2,278.3 L1000.7,275.1 L999.1,272.7 L1002.0,270.7 L1003.3,268.6 L1008.0,268.0 L1010.6,270.1 L1014.1,270.9 L1015.4,273.9 Z" fill="#90e040"/>
<path d="M1037.6,270.7 L1035.6,273.0 L1034.9,276.0 L1033.2,274.7 L1030.2,274.4 L1028.4,273.4 L1028.0,269.5 L1028.5,266.7 L1029.5,263.2 L1031.7,264.2 L1034.4,264.2 L1036.2,262.9 L1037.5,266.6 Z" fill="#b4e444"/>
<path d="M1053.6,273.5 L1052.3,276.2 L1049.6,276.5 L1046.1,277.4 L1043.5,277.1 L1041.1,275.9 L1041.0,272.5 L1039.4,270.8 L1043.0,268.3 L1045.5,266.5 L1048.1,266.8 L1051.4,268.7 L1051.2,271.2 Z" fill="#f05a3a"/>
<path d="M1059.1,275.5 L1058.2,277.1 L1057.9,278.6 L1057.0,278.2 L1055.8,279.2 L1054.8,277.1 L1054.3,275.3 L1054.4,273.2 L1055.3,272.8 L1056.0,271.5 L1057.5,272.1 L1058.5,272.0 L1058.7,274.0 Z" fill="#f4a048"/>
<path d="M1068.2,305.1 L1066.4,307.3 L1064.3,308.0 L1062.4,309.1 L1060.4,308.5 L1059.3,307.3 L1059.4,304.4 L1058.6,303.0 L1059.9,300.9 L1062.0,299.9 L1063.9,300.2 L1066.4,301.5 L1067.3,303.5 Z" fill="#eef040"/>
<path d="M1084.1,299.4 L1083.7,302.7 L1082.8,303.1 L1080.5,303.8 L1078.5,302.7 L1076.6,301.8 L1077.3,299.5 L1076.3,297.7 L1078.8,295.9 L1079.5,294.9 L1081.2,294.9 L1083.7,295.4 L1083.8,297.4 Z" fill="#e8d838"/>
<path d="M1082.5,316.9 L1082.8,320.2 L1078.4,322.6 L1076.4,323.6 L1072.6,322.8 L1068.7,321.7 L1067.7,318.6 L1067.6,315.5 L1068.6,312.8 L1070.1,309.8 L1072.2,308.9 L1076.2,307.5 L1079.2,307.4 L1080.5,312.1 L1084.2,313.0 Z" fill="#a6e850"/>
<path d="M1072.8,325.9 L1071.1,327.5 L1070.7,329.5 L1068.2,329.6 L1064.8,329.6 L1064.1,328.4 L1063.9,325.8 L1062.4,324.3 L1064.0,322.2 L1066.6,321.9 L1069.4,321.0 L1071.1,321.9 L1071.8,324.0 Z" fill="#e6e040"/>
<path d="M985.4,350.6 L983.8,353.7 L981.5,354.0 L977.5,355.8 L975.9,353.9 L972.2,353.4 L973.2,351.1 L972.2,347.6 L974.3,346.1 L977.1,346.1 L981.0,344.5 L982.6,345.7 L984.3,348.5 Z" fill="#f05040"/>
<path d="M1028.0,361.7 L1028.4,364.2 L1025.5,366.6 L1021.2,366.7 L1019.4,364.8 L1017.0,364.2 L1016.5,361.6 L1016.7,359.1 L1019.0,355.9 L1019.7,353.8 L1024.5,353.4 L1026.5,355.7 L1028.1,359.2 Z" fill="#f05a3a"/>
<path d="M1012.4,376.7 L1011.4,378.6 L1009.9,380.7 L1008.0,380.7 L1006.7,379.5 L1006.0,377.9 L1004.5,376.1 L1004.6,374.0 L1006.3,372.0 L1007.6,371.1 L1009.1,370.4 L1010.5,372.5 L1011.9,374.3 Z" fill="#e8e040"/>
<path d="M1025.8,382.5 L1024.3,385.5 L1021.2,386.4 L1018.7,385.8 L1013.3,386.4 L1011.1,384.8 L1010.8,383.0 L1010.5,381.0 L1013.4,379.5 L1015.6,377.9 L1020.7,378.2 L1023.6,379.8 L1025.7,381.3 Z" fill="#f49848"/>
<circle cx="767.6" cy="210.8" r="1.7" fill="#333"/>
<circle cx="788.4" cy="285.2" r="1.7" fill="#333"/>
<circle cx="681.7" cy="305.4" r="1.7" fill="#333"/>
<circle cx="753.9" cy="312" r="1.7" fill="#f07030"/>
<circle cx="892.8" cy="266.6" r="1.7" fill="#333"/>
<circle cx="977.6" cy="243.6" r="1.7" fill="#333"/>
<circle cx="1006" cy="277" r="1.7" fill="#333"/>
<circle cx="1002.7" cy="312.5" r="1.7" fill="#333"/>
<circle cx="990" cy="361.7" r="1.7" fill="#a0602a"/>
<circle cx="1068.4" cy="370" r="1.7" fill="#f07030"/>
<circle cx="849" cy="409.8" r="1.7" fill="#333"/>
<circle cx="798.7" cy="413.7" r="1.7" fill="#f07030"/>
<circle cx="1079.3" cy="178" r="1.7" fill="#f07030"/>
<circle cx="1093" cy="224.5" r="1.7" fill="#333"/>
<circle cx="1137.8" cy="269.3" r="1.7" fill="#333"/>
<circle cx="1244.4" cy="326.7" r="1.7" fill="#333"/>
<circle cx="1223.7" cy="372.7" r="1.7" fill="#f07030"/>
<circle cx="1075" cy="313" r="1.7" fill="#d03020"/>
<rect x="1144" y="174.9" width="4" height="4" fill="#222"/>
<rect x="1156" y="246.5" width="4" height="4" fill="#222"/>
<text x="770" y="207.5" font-size="10" fill="none" stroke="#fff" stroke-width="2.2" stroke-opacity="0.75" textLength="46" lengthAdjust="spacingAndGlyphs">Sioux City</text>
<text x="770" y="207.5" font-size="10" fill="#333" stroke="#333" stroke-width="0.3" textLength="46" lengthAdjust="spacingAndGlyphs">Sioux City</text>
<text x="982" y="238.6" font-size="10" fill="none" stroke="#fff" stroke-width="2.2" stroke-opacity="0.75" textLength="56" lengthAdjust="spacingAndGlyphs">Cedar Rapids</text>
<text x="982" y="238.6" font-size="10" fill="#333" stroke="#333" stroke-width="0.3" textLength="56" lengthAdjust="spacingAndGlyphs">Cedar Rapids</text>
<text x="896" y="261.5" font-size="10" fill="none" stroke="#fff" stroke-width="2.2" stroke-opacity="0.75" textLength="49" lengthAdjust="spacingAndGlyphs">Des Moines</text>
<text x="896" y="261.5" font-size="10" fill="#333" stroke="#333" stroke-width="0.3" textLength="49" lengthAdjust="spacingAndGlyphs">Des Moines</text>
<text x="792.4" y="280.6" font-size="10" fill="none" stroke="#fff" stroke-width="2.2" stroke-opacity="0.75" textLength="31" lengthAdjust="spacingAndGlyphs">Omaha</text>
<text x="792.4" y="280.6" font-size="10" fill="#333" stroke="#333" stroke-width="0.3" textLength="31" lengthAdjust="spacingAndGlyphs">Omaha</text>
<text x="983.3" y="289.4" font-size="10" fill="none" stroke="#fff" stroke-width="2.2" stroke-opacity="0.75" textLength="45" lengthAdjust="spacingAndGlyphs">Muscatine</text>
<text x="983.3" y="289.4" font-size="10" fill="#333" stroke="#333" stroke-width="0.3" textLength="45" lengthAdjust="spacingAndGlyphs">Muscatine</text>
<text x="625.5" y="317.4" font-size="10" fill="none" stroke="#fff" stroke-width="2.2" stroke-opacity="0.75" textLength="56.4" lengthAdjust="spacingAndGlyphs">Grand Island</text>
<text x="625.5" y="317.4" font-size="10" fill="#333" stroke="#333" stroke-width="0.3" textLength="56.4" lengthAdjust="spacingAndGlyphs">Grand Island</text>
<text x="757.3" y="322.4" font-size="10" fill="none" stroke="#fff" stroke-width="2.2" stroke-opacity="0.75" textLength="30.7" lengthAdjust="spacingAndGlyphs">Lincoln</text>
<text x="757.3" y="322.4" font-size="10" fill="#333" stroke="#333" stroke-width="0.3" textLength="30.7" lengthAdjust="spacingAndGlyphs">Lincoln</text>
<text x="953.5" y="316.6" font-size="10" fill="none" stroke="#fff" stroke-width="2.2" stroke-opacity="0.75" textLength="46.5" lengthAdjust="spacingAndGlyphs">Burlington</text>
<text x="953.5" y="316.6" font-size="10" fill="#333" stroke="#333" stroke-width="0.3" textLength="46.5" lengthAdjust="spacingAndGlyphs">Burlington</text>
<text x="958.4" y="358" font-size="10" fill="none" stroke="#fff" stroke-width="2.2" stroke-opacity="0.75" textLength="31.3" lengthAdjust="spacingAndGlyphs">Quincy</text>
<text x="958.4" y="358" font-size="10" fill="#333" stroke="#333" stroke-width="0.3" textLength="31.3" lengthAdjust="spacingAndGlyphs">Quincy</text>
<text x="1071" y="364.9" font-size="10" fill="none" stroke="#fff" stroke-width="2.2" stroke-opacity="0.75" textLength="47" lengthAdjust="spacingAndGlyphs">Springfield</text>
<text x="1071" y="364.9" font-size="10" fill="#333" stroke="#333" stroke-width="0.3" textLength="47" lengthAdjust="spacingAndGlyphs">Springfield</text>
<text x="769.6" y="407.4" font-size="10" fill="none" stroke="#fff" stroke-width="2.2" stroke-opacity="0.75" textLength="30.4" lengthAdjust="spacingAndGlyphs">Topeka</text>
<text x="769.6" y="407.4" font-size="10" fill="#333" stroke="#333" stroke-width="0.3" textLength="30.4" lengthAdjust="spacingAndGlyphs">Topeka</text>
<text x="852.3" y="406.4" font-size="10" fill="none" stroke="#fff" stroke-width="2.2" stroke-opacity="0.75" textLength="48.2" lengthAdjust="spacingAndGlyphs">Kansas City</text>
<text x="852.3" y="406.4" font-size="10" fill="#333" stroke="#333" stroke-width="0.3" textLength="48.2" lengthAdjust="spacingAndGlyphs">Kansas City</text>
<text x="1083" y="173.5" font-size="10" fill="none" stroke="#fff" stroke-width="2.2" stroke-opacity="0.75" textLength="36.8" lengthAdjust="spacingAndGlyphs">Madison</text>
<text x="1083" y="173.5" font-size="10" fill="#333" stroke="#333" stroke-width="0.3" textLength="36.8" lengthAdjust="spacingAndGlyphs">Madison</text>
<text x="1149.8" y="173.5" font-size="10" fill="none" stroke="#fff" stroke-width="2.2" stroke-opacity="0.75" textLength="52" lengthAdjust="spacingAndGlyphs">Milwaukee</text>
<text x="1149.8" y="173.5" font-size="10" fill="#333" stroke="#333" stroke-width="0.3" textLength="52" lengthAdjust="spacingAndGlyphs">Milwaukee</text>
<text x="1154" y="200.8" font-size="10" fill="none" font-style="italic" stroke="#fff" stroke-width="2.2" stroke-opacity="0.75" textLength="63" lengthAdjust="spacingAndGlyphs">Lake Michigan</text>
<text x="1154" y="200.8" font-size="10" fill="#4a6aa8" font-style="italic" stroke="#4a6aa8" stroke-width="0.3" textLength="63" lengthAdjust="spacingAndGlyphs">Lake Michigan</text>
<text x="1097.3" y="220.4" font-size="10" fill="none" stroke="#fff" stroke-width="2.2" stroke-opacity="0.75" textLength="38.5" lengthAdjust="spacingAndGlyphs">Rockford</text>
<text x="1097.3" y="220.4" font-size="10" fill="#333" stroke="#333" stroke-width="0.3" textLength="38.5" lengthAdjust="spacingAndGlyphs">Rockford</text>
<text x="1160.8" y="244.3" font-size="11" fill="none" stroke="#fff" stroke-width="2.2" stroke-opacity="0.75" textLength="39.2" lengthAdjust="spacingAndGlyphs">Chicago</text>
<text x="1160.8" y="244.3" font-size="11" fill="#333" stroke="#333" stroke-width="0.3" textLength="39.2" lengthAdjust="spacingAndGlyphs">Chicago</text>
<text x="1128" y="281.7" font-size="10" fill="none" stroke="#fff" stroke-width="2.2" stroke-opacity="0.75" textLength="22.4" lengthAdjust="spacingAndGlyphs">Joliet</text>
<text x="1128" y="281.7" font-size="10" fill="#333" stroke="#333" stroke-width="0.3" textLength="22.4" lengthAdjust="spacingAndGlyphs">Joliet</text>
<text x="1214.4" y="323.3" font-size="10" fill="none" stroke="#fff" stroke-width="2.2" stroke-opacity="0.75" textLength="31.6" lengthAdjust="spacingAndGlyphs">Marion</text>
<text x="1214.4" y="323.3" font-size="10" fill="#333" stroke="#333" stroke-width="0.3" textLength="31.6" lengthAdjust="spacingAndGlyphs">Marion</text>
<text x="1227" y="365.7" font-size="10" fill="none" stroke="#fff" stroke-width="2.2" stroke-opacity="0.75" textLength="32" lengthAdjust="spacingAndGlyphs">Indian</text>
<text x="1227" y="365.7" font-size="10" fill="#333" stroke="#333" stroke-width="0.3" textLength="32" lengthAdjust="spacingAndGlyphs">Indian</text>
<text x="1029.2" y="409.6" font-size="8" fill="#333" stroke="#fff" stroke-width="1.5" stroke-opacity="0.6" paint-order="stroke" textLength="180" lengthAdjust="spacingAndGlyphs">© 2018 HERE,© 2018 Microsoft Corporation</text>
<text x="1211" y="409.6" font-size="8" fill="#2a4ea0" text-decoration="underline" textLength="22" lengthAdjust="spacingAndGlyphs">Terms</text>
<path d="M598.6,391 L601.6,392 L601.6,401.5 L606.8,398.6 L604.6,397.6 L603.3,394.6 L610.5,397.9 L610.5,401.4 L601.6,406.6 L598.6,405 Z" fill="#111"/>
<text x="614.6" y="404.3" font-size="14" fill="#1a1a1a" textLength="24.4" lengthAdjust="spacingAndGlyphs">Bing</text>
</g>
<rect x="30.5" y="438.5" width="755.5" height="290" fill="#fff" stroke="#e6e6e6" stroke-width="1"/>
<rect x="31" y="439" width="754.5" height="16" fill="#f7f7f7"/>
<line x1="400" y1="444.5" x2="414" y2="444.5" stroke="#999" stroke-width="0.9"/>
<line x1="400" y1="447" x2="414" y2="447" stroke="#999" stroke-width="0.9"/>
<path d="M748.3,447 V450.3 H759.3 V441.3 H754.6" fill="none" stroke="#666" stroke-width="0.9"/>
<path d="M748.3,444.5 V441.3 H751.5" fill="none" stroke="#666" stroke-width="0.9"/>
<path d="M753.5,446 L758.8,441.5 M755.8,441.5 H758.8 V444.3" fill="none" stroke="#666" stroke-width="0.9"/>
<circle cx="769.3" cy="445.7" r="0.9" fill="#555"/>
<circle cx="774.5" cy="445.7" r="0.9" fill="#555"/>
<circle cx="779.7" cy="445.7" r="0.9" fill="#555"/>
<text x="35.3" y="471.6" font-size="15" fill="#252423" textLength="418" lengthAdjust="spacingAndGlyphs">Breast Cancer Screening % By Practice (&gt; =5 eligible patients)</text>
<text x="45.4" y="492" font-size="10.5" fill="#666" textLength="54.5" lengthAdjust="spacingAndGlyphs">Department</text>
<text x="118.8" y="492" font-size="10.5" fill="#666" textLength="20.5" lengthAdjust="spacingAndGlyphs">CITY</text>
<text x="222.8" y="492" font-size="10.5" fill="#666" textLength="102" lengthAdjust="spacingAndGlyphs">Female Patients 50-74</text>
<path d="M325.3,484.8 L334.2,484.8 L329.75,488.9 Z" fill="#444"/>
<text x="443.5" y="492" font-size="10.5" fill="#666" text-anchor="end" textLength="83.5" lengthAdjust="spacingAndGlyphs">Had Mammogram</text>
<text x="584.3" y="492" font-size="10.5" fill="#666" text-anchor="end" textLength="121.8" lengthAdjust="spacingAndGlyphs">Breast Cancer Screening %</text>
<text x="600.4" y="492" font-size="10.5" fill="#666" textLength="153.2" lengthAdjust="spacingAndGlyphs">Breast Cancer Screening % Status</text>
<line x1="34.6" y1="495.5" x2="758.2" y2="495.5" stroke="#dedede" stroke-width="1"/>
<line x1="198.8" y1="496" x2="198.8" y2="720" stroke="#dcdcdc" stroke-width="1"/>
<text x="44.8" y="508.05" font-size="10.5" fill="#666" transform="translate(44.8,0) scale(0.94,1) translate(-44.8,0)">Practice 181</text>
<text x="118.8" y="508.05" font-size="10.5" fill="#666" transform="translate(118.8,0) scale(0.895,1) translate(-118.8,0)">QUINCY</text>
<text x="334.5" y="508.05" font-size="10.5" fill="#666" text-anchor="end" transform="translate(334.5,0) scale(0.94,1) translate(-334.5,0)">1,030</text>
<text x="443.5" y="508.05" font-size="10.5" fill="#666" text-anchor="end" transform="translate(443.5,0) scale(0.94,1) translate(-443.5,0)">353</text>
<text x="584.3" y="508.05" font-size="10.5" fill="#666" text-anchor="end" transform="translate(584.3,0) scale(0.94,1) translate(-584.3,0)">34.3 %</text>
<path d="M599.9,500.95 L608.9,509.95 M608.9,500.95 L599.9,509.95" stroke="#b83434" stroke-width="1.25"/>
<text x="44.8" y="522.7" font-size="10.5" fill="#666" transform="translate(44.8,0) scale(0.94,1) translate(-44.8,0)">Practice 153</text>
<text x="118.8" y="522.7" font-size="10.5" fill="#666" transform="translate(118.8,0) scale(0.895,1) translate(-118.8,0)">GENESEO</text>
<text x="334.5" y="522.7" font-size="10.5" fill="#666" text-anchor="end" transform="translate(334.5,0) scale(0.94,1) translate(-334.5,0)">637</text>
<text x="443.5" y="522.7" font-size="10.5" fill="#666" text-anchor="end" transform="translate(443.5,0) scale(0.94,1) translate(-443.5,0)">62</text>
<text x="584.3" y="522.7" font-size="10.5" fill="#666" text-anchor="end" transform="translate(584.3,0) scale(0.94,1) translate(-584.3,0)">9.7 %</text>
<path d="M599.9,515.6 L608.9,524.6 M608.9,515.6 L599.9,524.6" stroke="#b83434" stroke-width="1.25"/>
<text x="44.8" y="537.35" font-size="10.5" fill="#666" transform="translate(44.8,0) scale(0.94,1) translate(-44.8,0)">Practice 50</text>
<text x="118.8" y="537.35" font-size="10.5" fill="#666" transform="translate(118.8,0) scale(0.895,1) translate(-118.8,0)">DES MOINES</text>
<text x="334.5" y="537.35" font-size="10.5" fill="#666" text-anchor="end" transform="translate(334.5,0) scale(0.94,1) translate(-334.5,0)">527</text>
<text x="443.5" y="537.35" font-size="10.5" fill="#666" text-anchor="end" transform="translate(443.5,0) scale(0.94,1) translate(-443.5,0)">99</text>
<text x="584.3" y="537.35" font-size="10.5" fill="#666" text-anchor="end" transform="translate(584.3,0) scale(0.94,1) translate(-584.3,0)">18.8 %</text>
<path d="M599.9,530.25 L608.9,539.25 M608.9,530.25 L599.9,539.25" stroke="#b83434" stroke-width="1.25"/>
<text x="44.8" y="552.0" font-size="10.5" fill="#666" transform="translate(44.8,0) scale(0.94,1) translate(-44.8,0)">Practice 198</text>
<text x="118.8" y="552.0" font-size="10.5" fill="#666" transform="translate(118.8,0) scale(0.895,1) translate(-118.8,0)">WATERLOO</text>
<text x="334.5" y="552.0" font-size="10.5" fill="#666" text-anchor="end" transform="translate(334.5,0) scale(0.94,1) translate(-334.5,0)">514</text>
<text x="443.5" y="552.0" font-size="10.5" fill="#666" text-anchor="end" transform="translate(443.5,0) scale(0.94,1) translate(-443.5,0)">457</text>
<text x="584.3" y="552.0" font-size="10.5" fill="#666" text-anchor="end" transform="translate(584.3,0) scale(0.94,1) translate(-584.3,0)">88.9 %</text>
<path d="M599.9,549.9 L603.1999999999999,553.1999999999999 L609.4,546.6" fill="none" stroke="#6cb85a" stroke-width="1.2"/>
<text x="44.8" y="566.65" font-size="10.5" fill="#666" transform="translate(44.8,0) scale(0.94,1) translate(-44.8,0)">Practice 205</text>
<text x="118.8" y="566.65" font-size="10.5" fill="#666" transform="translate(118.8,0) scale(0.895,1) translate(-118.8,0)">WATERLOO</text>
<text x="334.5" y="566.65" font-size="10.5" fill="#666" text-anchor="end" transform="translate(334.5,0) scale(0.94,1) translate(-334.5,0)">486</text>
<text x="443.5" y="566.65" font-size="10.5" fill="#666" text-anchor="end" transform="translate(443.5,0) scale(0.94,1) translate(-443.5,0)">408</text>
<text x="584.3" y="566.65" font-size="10.5" fill="#666" text-anchor="end" transform="translate(584.3,0) scale(0.94,1) translate(-584.3,0)">84.0 %</text>
<path d="M599.9,564.55 L603.1999999999999,567.8499999999999 L609.4,561.25" fill="none" stroke="#6cb85a" stroke-width="1.2"/>
<text x="44.8" y="581.3" font-size="10.5" fill="#666" transform="translate(44.8,0) scale(0.94,1) translate(-44.8,0)">Practice 183</text>
<text x="118.8" y="581.3" font-size="10.5" fill="#666" transform="translate(118.8,0) scale(0.895,1) translate(-118.8,0)">QUINCY</text>
<text x="334.5" y="581.3" font-size="10.5" fill="#666" text-anchor="end" transform="translate(334.5,0) scale(0.94,1) translate(-334.5,0)">452</text>
<text x="443.5" y="581.3" font-size="10.5" fill="#666" text-anchor="end" transform="translate(443.5,0) scale(0.94,1) translate(-443.5,0)">152</text>
<text x="584.3" y="581.3" font-size="10.5" fill="#666" text-anchor="end" transform="translate(584.3,0) scale(0.94,1) translate(-584.3,0)">33.6 %</text>
<path d="M599.9,574.1999999999999 L608.9,583.1999999999999 M608.9,574.1999999999999 L599.9,583.1999999999999" stroke="#b83434" stroke-width="1.25"/>
<text x="44.8" y="595.95" font-size="10.5" fill="#666" transform="translate(44.8,0) scale(0.94,1) translate(-44.8,0)">Practice 61</text>
<text x="118.8" y="595.95" font-size="10.5" fill="#666" transform="translate(118.8,0) scale(0.895,1) translate(-118.8,0)">WEST DES MO...</text>
<text x="334.5" y="595.95" font-size="10.5" fill="#666" text-anchor="end" transform="translate(334.5,0) scale(0.94,1) translate(-334.5,0)">430</text>
<text x="443.5" y="595.95" font-size="10.5" fill="#666" text-anchor="end" transform="translate(443.5,0) scale(0.94,1) translate(-443.5,0)">206</text>
<text x="584.3" y="595.95" font-size="10.5" fill="#666" text-anchor="end" transform="translate(584.3,0) scale(0.94,1) translate(-584.3,0)">47.9 %</text>
<path d="M599.9,588.85 L608.9,597.85 M608.9,588.85 L599.9,597.85" stroke="#b83434" stroke-width="1.25"/>
<text x="44.8" y="610.6" font-size="10.5" fill="#666" transform="translate(44.8,0) scale(0.94,1) translate(-44.8,0)">Practice 129</text>
<text x="118.8" y="610.6" font-size="10.5" fill="#666" transform="translate(118.8,0) scale(0.895,1) translate(-118.8,0)">PEORIA</text>
<text x="334.5" y="610.6" font-size="10.5" fill="#666" text-anchor="end" transform="translate(334.5,0) scale(0.94,1) translate(-334.5,0)">424</text>
<text x="443.5" y="610.6" font-size="10.5" fill="#666" text-anchor="end" transform="translate(443.5,0) scale(0.94,1) translate(-443.5,0)">338</text>
<text x="584.3" y="610.6" font-size="10.5" fill="#666" text-anchor="end" transform="translate(584.3,0) scale(0.94,1) translate(-584.3,0)">79.7 %</text>
<path d="M599.9,608.5 L603.1999999999999,611.8 L609.4,605.2" fill="none" stroke="#6cb85a" stroke-width="1.2"/>
<text x="44.8" y="625.25" font-size="10.5" fill="#666" transform="translate(44.8,0) scale(0.94,1) translate(-44.8,0)">Practice 29</text>
<text x="118.8" y="625.25" font-size="10.5" fill="#666" transform="translate(118.8,0) scale(0.895,1) translate(-118.8,0)">ALTOONA</text>
<text x="334.5" y="625.25" font-size="10.5" fill="#666" text-anchor="end" transform="translate(334.5,0) scale(0.94,1) translate(-334.5,0)">387</text>
<text x="443.5" y="625.25" font-size="10.5" fill="#666" text-anchor="end" transform="translate(443.5,0) scale(0.94,1) translate(-443.5,0)">243</text>
<text x="584.3" y="625.25" font-size="10.5" fill="#666" text-anchor="end" transform="translate(584.3,0) scale(0.94,1) translate(-584.3,0)">62.8 %</text>
<path d="M604.4,618.65 L604.4,624.15 M604.4,625.65 L604.4,627.15" stroke="#e8d230" stroke-width="1.2"/>
<text x="44.8" y="639.9" font-size="10.5" fill="#666" transform="translate(44.8,0) scale(0.94,1) translate(-44.8,0)">Practice 21</text>
<text x="118.8" y="639.9" font-size="10.5" fill="#666" transform="translate(118.8,0) scale(0.895,1) translate(-118.8,0)">MARION</text>
<text x="334.5" y="639.9" font-size="10.5" fill="#666" text-anchor="end" transform="translate(334.5,0) scale(0.94,1) translate(-334.5,0)">349</text>
<text x="443.5" y="639.9" font-size="10.5" fill="#666" text-anchor="end" transform="translate(443.5,0) scale(0.94,1) translate(-443.5,0)">262</text>
<text x="584.3" y="639.9" font-size="10.5" fill="#666" text-anchor="end" transform="translate(584.3,0) scale(0.94,1) translate(-584.3,0)">75.1 %</text>
<path d="M599.9,637.8 L603.1999999999999,641.0999999999999 L609.4,634.5" fill="none" stroke="#6cb85a" stroke-width="1.2"/>
<text x="44.8" y="654.55" font-size="10.5" fill="#666" transform="translate(44.8,0) scale(0.94,1) translate(-44.8,0)">Practice 34</text>
<text x="118.8" y="654.55" font-size="10.5" fill="#666" transform="translate(118.8,0) scale(0.895,1) translate(-118.8,0)">BOONE</text>
<text x="334.5" y="654.55" font-size="10.5" fill="#666" text-anchor="end" transform="translate(334.5,0) scale(0.94,1) translate(-334.5,0)">349</text>
<text x="443.5" y="654.55" font-size="10.5" fill="#666" text-anchor="end" transform="translate(443.5,0) scale(0.94,1) translate(-443.5,0)">10</text>
<text x="584.3" y="654.55" font-size="10.5" fill="#666" text-anchor="end" transform="translate(584.3,0) scale(0.94,1) translate(-584.3,0)">2.9 %</text>
<path d="M599.9,647.4499999999999 L608.9,656.4499999999999 M608.9,647.4499999999999 L599.9,656.4499999999999" stroke="#b83434" stroke-width="1.25"/>
<text x="44.8" y="669.2" font-size="10.5" fill="#666" transform="translate(44.8,0) scale(0.94,1) translate(-44.8,0)">Practice 162</text>
<text x="118.8" y="669.2" font-size="10.5" fill="#666" transform="translate(118.8,0) scale(0.895,1) translate(-118.8,0)">MUSCATINE</text>
<text x="334.5" y="669.2" font-size="10.5" fill="#666" text-anchor="end" transform="translate(334.5,0) scale(0.94,1) translate(-334.5,0)">346</text>
<text x="443.5" y="669.2" font-size="10.5" fill="#666" text-anchor="end" transform="translate(443.5,0) scale(0.94,1) translate(-443.5,0)">277</text>
<text x="584.3" y="669.2" font-size="10.5" fill="#666" text-anchor="end" transform="translate(584.3,0) scale(0.94,1) translate(-584.3,0)">80.1 %</text>
<path d="M599.9,667.1 L603.1999999999999,670.4 L609.4,663.8000000000001" fill="none" stroke="#6cb85a" stroke-width="1.2"/>
<text x="44.8" y="683.85" font-size="10.5" fill="#666" transform="translate(44.8,0) scale(0.94,1) translate(-44.8,0)">Practice 42</text>
<text x="118.8" y="683.85" font-size="10.5" fill="#666" transform="translate(118.8,0) scale(0.895,1) translate(-118.8,0)">DES MOINES</text>
<text x="334.5" y="683.85" font-size="10.5" fill="#666" text-anchor="end" transform="translate(334.5,0) scale(0.94,1) translate(-334.5,0)">322</text>
<text x="443.5" y="683.85" font-size="10.5" fill="#666" text-anchor="end" transform="translate(443.5,0) scale(0.94,1) translate(-443.5,0)">30</text>
<text x="584.3" y="683.85" font-size="10.5" fill="#666" text-anchor="end" transform="translate(584.3,0) scale(0.94,1) translate(-584.3,0)">9.3 %</text>
<path d="M599.9,676.75 L608.9,685.75 M608.9,676.75 L599.9,685.75" stroke="#b83434" stroke-width="1.25"/>
<text x="44.8" y="698.5" font-size="10.5" fill="#666" transform="translate(44.8,0) scale(0.94,1) translate(-44.8,0)">Practice 5</text>
<text x="118.8" y="698.5" font-size="10.5" fill="#666" transform="translate(118.8,0) scale(0.895,1) translate(-118.8,0)">ANAMOSA</text>
<text x="334.5" y="698.5" font-size="10.5" fill="#666" text-anchor="end" transform="translate(334.5,0) scale(0.94,1) translate(-334.5,0)">315</text>
<text x="443.5" y="698.5" font-size="10.5" fill="#666" text-anchor="end" transform="translate(443.5,0) scale(0.94,1) translate(-443.5,0)">192</text>
<text x="584.3" y="698.5" font-size="10.5" fill="#666" text-anchor="end" transform="translate(584.3,0) scale(0.94,1) translate(-584.3,0)">61.0 %</text>
<path d="M604.4,691.9 L604.4,697.4 M604.4,698.9 L604.4,700.4" stroke="#e8d230" stroke-width="1.2"/>
<text x="44.8" y="713.15" font-size="10.5" fill="#666" transform="translate(44.8,0) scale(0.94,1) translate(-44.8,0)">Practice 57</text>
<text x="118.8" y="713.15" font-size="10.5" fill="#666" transform="translate(118.8,0) scale(0.895,1) translate(-118.8,0)">URBANDALE</text>
<text x="334.5" y="713.15" font-size="10.5" fill="#666" text-anchor="end" transform="translate(334.5,0) scale(0.94,1) translate(-334.5,0)">314</text>
<text x="443.5" y="713.15" font-size="10.5" fill="#666" text-anchor="end" transform="translate(443.5,0) scale(0.94,1) translate(-443.5,0)">8</text>
<text x="584.3" y="713.15" font-size="10.5" fill="#666" text-anchor="end" transform="translate(584.3,0) scale(0.94,1) translate(-584.3,0)">2.5 %</text>
<path d="M599.9,706.05 L608.9,715.05 M608.9,706.05 L599.9,715.05" stroke="#b83434" stroke-width="1.25"/>
<rect x="774" y="480.7" width="8.7" height="240" fill="#f0f0f0"/>
<rect x="774" y="506.7" width="8.7" height="21.6" fill="#c8c8c8"/>
<path d="M775.8,495 L778.35,492.3 L780.9,495" fill="none" stroke="#555" stroke-width="0.9"/>
<path d="M775.8,705.5 L778.35,708.2 L780.9,705.5" fill="none" stroke="#555" stroke-width="0.9"/>
<text x="803.1" y="468.9" font-size="15" fill="#252423" textLength="338" lengthAdjust="spacingAndGlyphs">Breast Cancer Screening % by Payor Group/Payor</text>
<text x="803" y="495.6" font-size="10.5" font-weight="bold" fill="#666" textLength="57" lengthAdjust="spacingAndGlyphs">Payor Group</text>
<circle cx="879.4" cy="491.8" r="4.6" fill="#03b4ef"/>
<text x="886.5" y="495.6" font-size="10.5" fill="#666" textLength="42" lengthAdjust="spacingAndGlyphs">Medicaid</text>
<circle cx="942.6" cy="491.8" r="4.6" fill="#dc3c16"/>
<text x="949.7" y="495.6" font-size="10.5" fill="#666" textLength="42" lengthAdjust="spacingAndGlyphs">Medicare</text>
<circle cx="1006.6" cy="491.8" r="4.6" fill="#fe9900"/>
<text x="1013.7" y="495.6" font-size="10.5" fill="#666" textLength="77" lengthAdjust="spacingAndGlyphs">Private Insurance</text>
<circle cx="1105.4" cy="491.8" r="4.6" fill="#37c43c"/>
<text x="1112.5" y="495.6" font-size="10.5" fill="#666" textLength="36" lengthAdjust="spacingAndGlyphs">Self Pay</text>
<line x1="835" y1="680.0" x2="1256" y2="680.0" stroke="#ececec" stroke-width="1"/>
<text x="825.3" y="683.8" font-size="10" fill="#777" text-anchor="end">0 %</text>
<line x1="835" y1="638.3" x2="1256" y2="638.3" stroke="#ececec" stroke-width="1"/>
<text x="825.3" y="642.1" font-size="10" fill="#777" text-anchor="end">20 %</text>
<line x1="835" y1="596.6" x2="1256" y2="596.6" stroke="#ececec" stroke-width="1"/>
<text x="825.3" y="600.4" font-size="10" fill="#777" text-anchor="end">40 %</text>
<line x1="835" y1="554.9" x2="1256" y2="554.9" stroke="#ececec" stroke-width="1"/>
<text x="825.3" y="558.7" font-size="10" fill="#777" text-anchor="end">60 %</text>
<line x1="835" y1="513.2" x2="1256" y2="513.2" stroke="#ececec" stroke-width="1"/>
<text x="825.3" y="517.0" font-size="10" fill="#777" text-anchor="end">80 %</text>
<rect x="845.25" y="540.83" width="20" height="139.17" fill="#fe9900"/>
<text x="0" y="0" font-size="10.5" fill="#777" text-anchor="end" transform="translate(853.75,690.5) rotate(-34.5) scale(0.9,1)">Payor 3</text>
<rect x="870.61" y="557.61" width="20" height="122.39" fill="#03b4ef"/>
<text x="0" y="0" font-size="10.5" fill="#777" text-anchor="end" transform="translate(879.11,690.5) rotate(-34.5) scale(0.9,1)">Medicaid</text>
<rect x="895.96" y="563.55" width="20" height="116.45" fill="#fe9900"/>
<text x="0" y="0" font-size="10.5" fill="#777" text-anchor="end" transform="translate(904.46,690.5) rotate(-34.5) scale(0.9,1)">Payor 10</text>
<rect x="921.32" y="569.29" width="20" height="110.71" fill="#fe9900"/>
<text x="0" y="0" font-size="10.5" fill="#777" text-anchor="end" transform="translate(929.82,690.5) rotate(-34.5) scale(0.9,1)">Payor 8</text>
<rect x="946.68" y="570.12" width="20" height="109.88" fill="#dc3c16"/>
<text x="0" y="0" font-size="10.5" fill="#777" text-anchor="end" transform="translate(955.18,690.5) rotate(-34.5) scale(0.9,1)">Medicare</text>
<rect x="972.03" y="576.38" width="20" height="103.62" fill="#fe9900"/>
<text x="0" y="0" font-size="10.5" fill="#777" text-anchor="end" transform="translate(980.53,690.5) rotate(-34.5) scale(0.9,1)">Payor 5</text>
<rect x="997.39" y="584.51" width="20" height="95.49" fill="#fe9900"/>
<text x="0" y="0" font-size="10.5" fill="#777" text-anchor="end" transform="translate(1005.89,690.5) rotate(-34.5) scale(0.9,1)">Payor 7</text>
<rect x="1022.75" y="585.76" width="20" height="94.24" fill="#fe9900"/>
<text x="0" y="0" font-size="10.5" fill="#777" text-anchor="end" transform="translate(1031.25,690.5) rotate(-34.5) scale(0.9,1)">Payor 6</text>
<rect x="1048.11" y="590.76" width="20" height="89.24" fill="#fe9900"/>
<text x="0" y="0" font-size="10.5" fill="#777" text-anchor="end" transform="translate(1056.61,690.5) rotate(-34.5) scale(0.9,1)">Payor 12</text>
<rect x="1073.46" y="591.18" width="20" height="88.82" fill="#fe9900"/>
<text x="0" y="0" font-size="10.5" fill="#777" text-anchor="end" transform="translate(1081.96,690.5) rotate(-34.5) scale(0.9,1)">Payor 9</text>
<rect x="1098.82" y="591.60" width="20" height="88.40" fill="#fe9900"/>
<text x="0" y="0" font-size="10.5" fill="#777" text-anchor="end" transform="translate(1107.32,690.5) rotate(-34.5) scale(0.9,1)">Payor 13</text>
<rect x="1124.18" y="593.06" width="20" height="86.94" fill="#fe9900"/>
<text x="0" y="0" font-size="10.5" fill="#777" text-anchor="end" transform="translate(1132.68,690.5) rotate(-34.5) scale(0.9,1)">Payor 2</text>
<rect x="1149.53" y="596.60" width="20" height="83.40" fill="#fe9900"/>
<text x="0" y="0" font-size="10.5" fill="#777" text-anchor="end" transform="translate(1158.03,690.5) rotate(-34.5) scale(0.9,1)">Payor 4</text>
<rect x="1174.89" y="604.94" width="20" height="75.06" fill="#fe9900"/>
<text x="0" y="0" font-size="10.5" fill="#777" text-anchor="end" transform="translate(1183.39,690.5) rotate(-34.5) scale(0.9,1)">Payor 1</text>
<rect x="1200.25" y="612.24" width="20" height="67.76" fill="#fe9900"/>
<text x="0" y="0" font-size="10.5" fill="#777" text-anchor="end" transform="translate(1208.75,690.5) rotate(-34.5) scale(0.9,1)">Payor 11</text>
<rect x="1225.61" y="659.78" width="20" height="20.22" fill="#37c43c"/>
<text x="0" y="0" font-size="10.5" fill="#777" text-anchor="end" transform="translate(1234.11,690.5) rotate(-34.5) scale(0.9,1)">Self Pay</text>
</svg>
</body></html>
